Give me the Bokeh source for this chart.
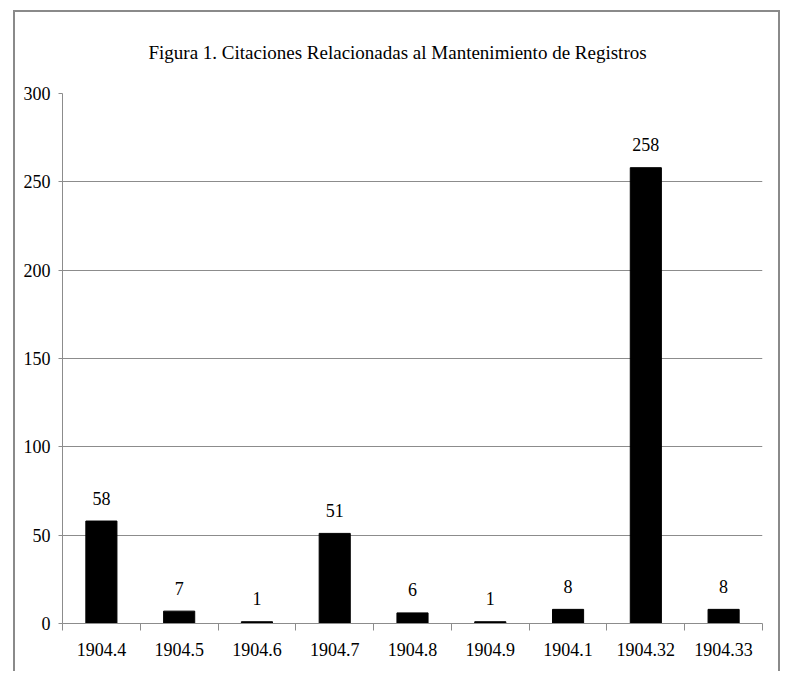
from bokeh.plotting import figure
from bokeh.models import FixedTicker, ColumnDataSource, Range1d, Title
from bokeh.embed import file_html
from bokeh.resources import INLINE
from bokeh.core.properties import value

# Data
categories = ["1904.4", "1904.5", "1904.6", "1904.7", "1904.8", "1904.9", "1904.1", "1904.32", "1904.33"]
counts = [58, 7, 1, 51, 6, 1, 8, 258, 8]
y_ticks = [0, 50, 100, 150, 200, 250, 300]
title_text = "Figura 1. Citaciones Relacionadas al Mantenimiento de Registros"

FONT = "Liberation Serif"
GRID = "#8c8c8c"

centers = [i + 0.5 for i in range(len(categories))]
boundaries = list(range(len(categories) + 1))

src = ColumnDataSource(dict(x=centers, top=counts, lab=[str(c) for c in counts]))

p = figure(
    width=763, height=659,
    frame_width=700, frame_height=530,
    x_range=Range1d(0, len(categories)), y_range=Range1d(0, 300),
    output_backend="svg", toolbar_location=None,
    min_border_left=47, min_border_right=16, min_border_top=81, min_border_bottom=48,
)
p.title = Title(text=title_text, align="left", offset=86, standoff=57, vertical_align="top",
                text_font=FONT, text_font_size="19px", text_font_style="normal", text_color="#000000")

p.styles = {
    "border-top": "2px solid #8a8a8a",
    "border-left": "2px solid #8a8a8a",
    "border-right": "2px solid #8a8a8a",
    "margin-left": "13px",
    "margin-top": "10px",
}

p.outline_line_color = None
p.background_fill_color = "white"
p.border_fill_color = "white"

p.vbar(x="x", top="top", width=0.4, bottom=0, source=src, fill_color="black", line_color="black")
p.text(x="x", y="top", text="lab", source=src, text_align="center", text_baseline="alphabetic",
       y_offset=-23, text_font=value(FONT), text_font_size="18px", text_color="black")

# x axis: labels at centers, ticks at boundaries
xt = FixedTicker(ticks=centers, minor_ticks=boundaries)
p.xaxis.ticker = xt
p.xaxis.major_label_overrides = {c: lab for c, lab in zip(centers, categories)}
p.xaxis.major_tick_out = 0
p.xaxis.major_tick_in = 0
p.xaxis.minor_tick_out = 7
p.xaxis.minor_tick_in = 0
p.xaxis.minor_tick_line_color = GRID
p.xaxis.axis_line_color = GRID
p.xaxis.major_label_standoff = 12
p.xaxis.major_label_text_font = FONT
p.xaxis.major_label_text_font_size = "18px"
p.xaxis.major_label_text_color = "black"

p.yaxis.ticker = FixedTicker(ticks=y_ticks)
p.yaxis.major_tick_out = 4
p.yaxis.major_tick_in = 0
p.yaxis.minor_tick_out = 0
p.yaxis.minor_tick_in = 0
p.yaxis.major_tick_line_color = GRID
p.yaxis.axis_line_color = GRID
p.yaxis.major_label_standoff = 8
p.yaxis.major_label_text_font = FONT
p.yaxis.major_label_text_font_size = "18px"
p.yaxis.major_label_text_color = "black"

p.xgrid.grid_line_color = None
p.ygrid.ticker = FixedTicker(ticks=y_ticks)
p.ygrid.grid_line_color = GRID
p.ygrid.grid_line_width = 1

open("out.html", "w").write(file_html(p, INLINE))
